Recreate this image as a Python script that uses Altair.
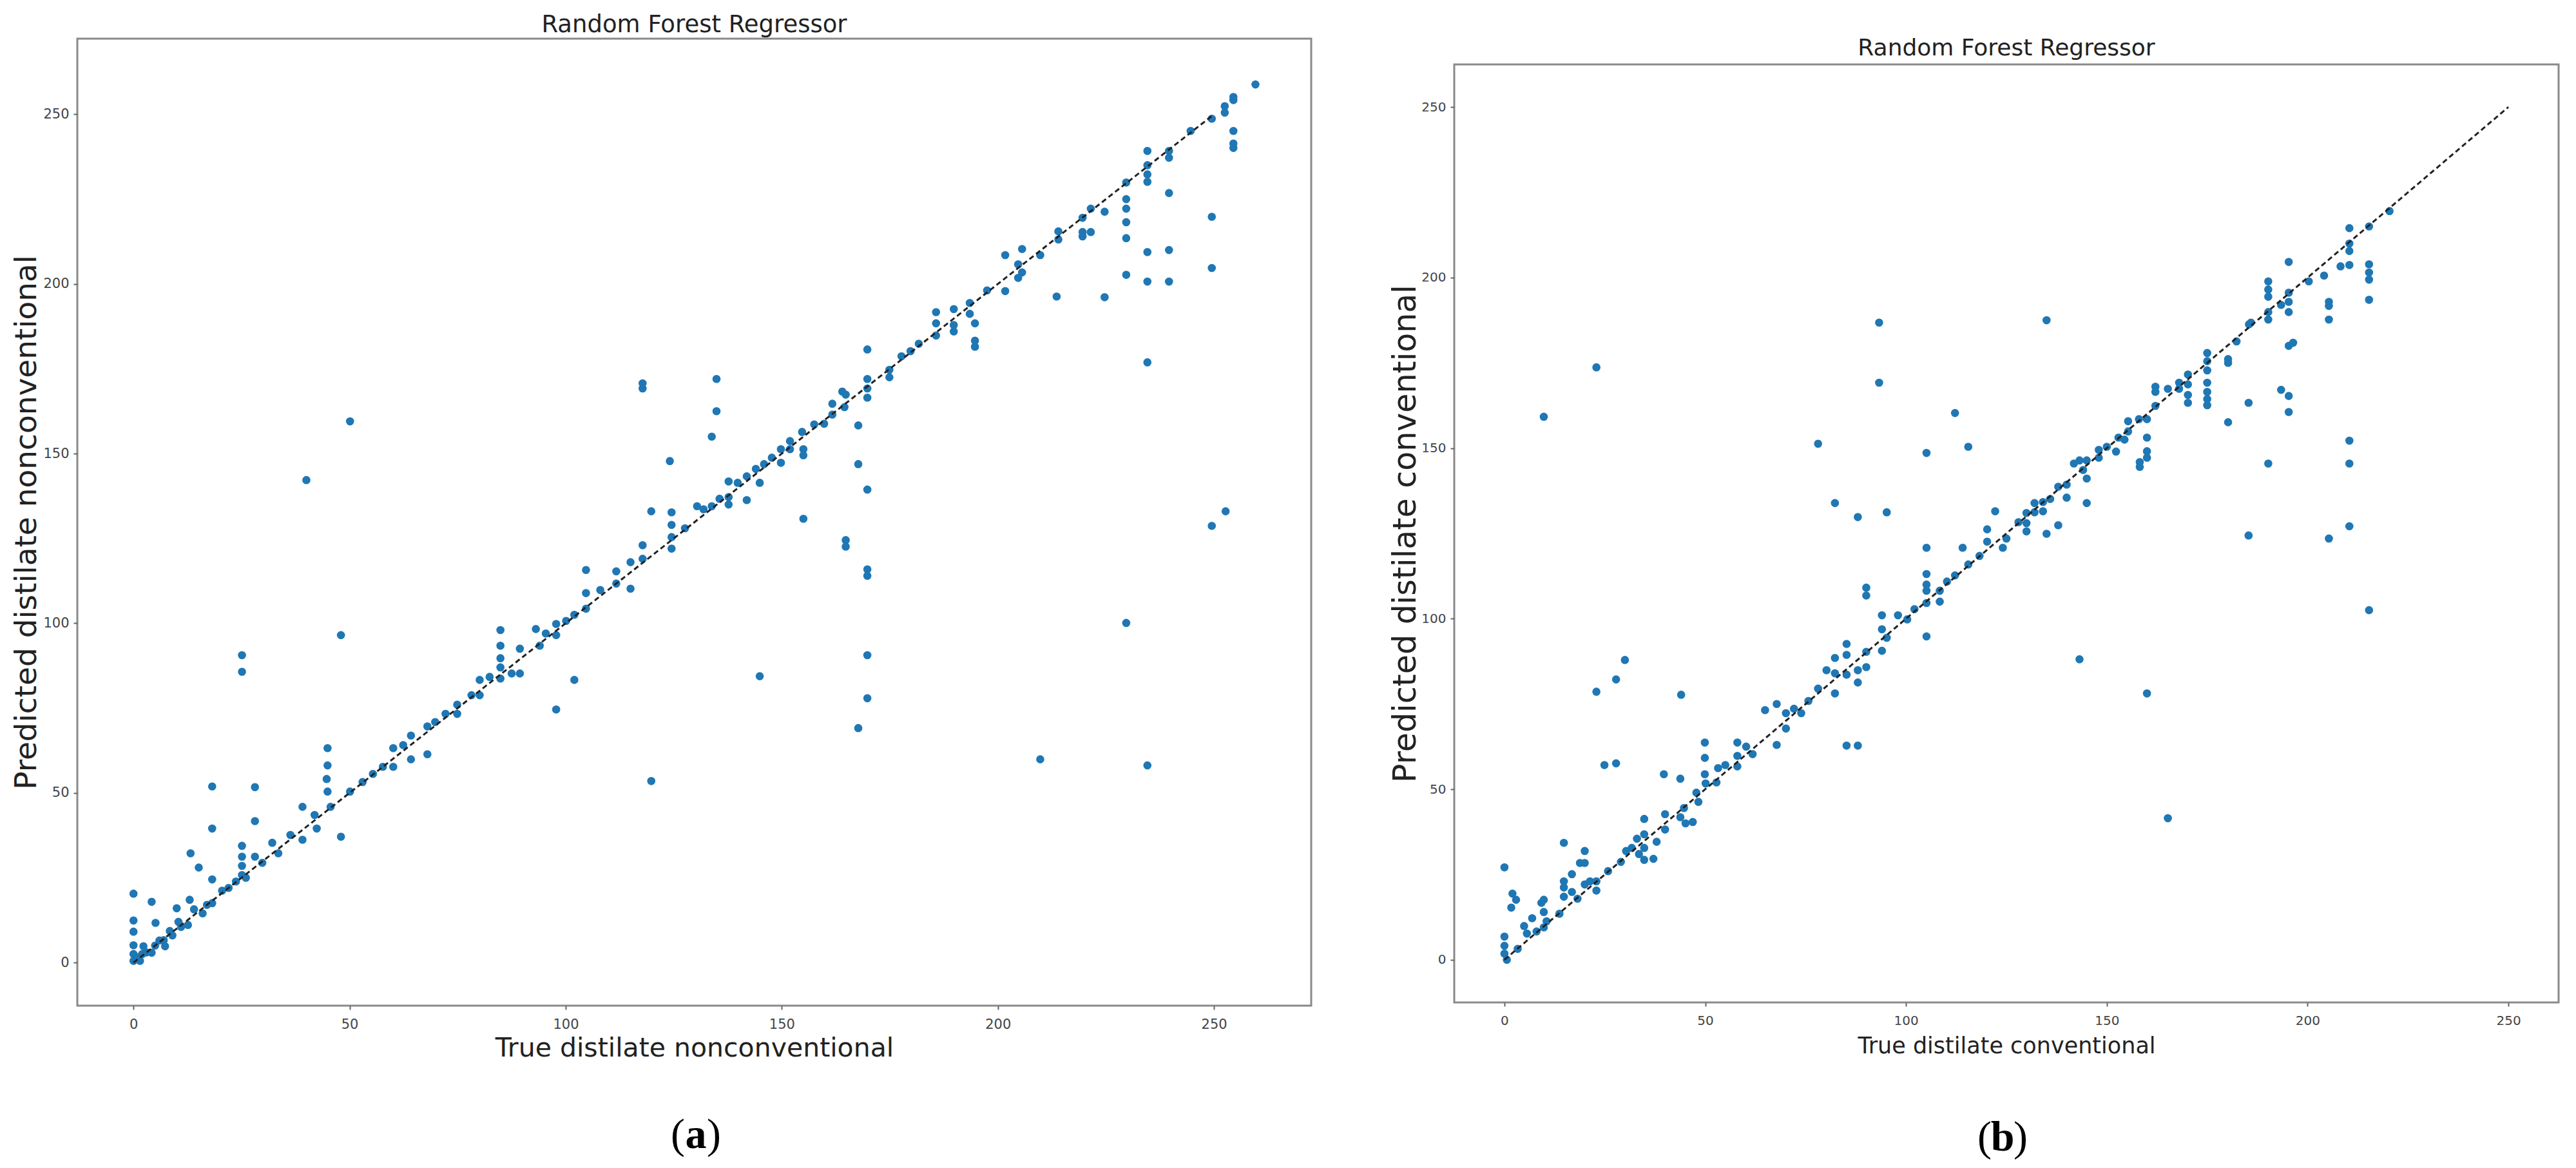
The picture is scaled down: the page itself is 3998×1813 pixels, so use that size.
import altair as alt
import pandas as pd

TICKS = [0, 50, 100, 150, 200, 250]
DIAG = [0, 250]
TITLE = "Random Forest Regressor"
BLUE = "#1f77b4"
FONT = "DejaVu Sans"

left_true = [0, 0, 0, 0, 0, 0, 1, 1.5, 2, 2.3, 3, 4.2, 4.2, 5.1, 5, 6, 7, 7.3, 8.4, 9, 10, 10.4, 11, 12.6, 13, 13.2,
             14, 15.1, 16, 17, 18.2, 18.2, 18.2, 18.2, 20.5, 22, 23.7, 25.1, 25.1, 25.1, 25.1, 25.1, 25.1, 26, 28.1,
             28.1, 28.1, 29.8, 32.1, 33.5, 36.3, 39.1, 39.1, 40, 41.9, 42.4, 44.9, 44.9, 44.7, 44.9, 45.6, 48, 48,
             50.1, 50.1, 53, 55.4, 57.7, 60.1, 60.1, 62.4, 64.2, 64.2, 68, 68, 69.8, 72.2, 74.9, 74.9, 78.2, 80.1,
             80.1, 82.4, 84.9, 84.9, 84.9, 84.9, 84.9, 87.5, 89.4, 89.4, 93.1, 94, 95.4, 97.8, 97.8, 97.8, 100.1,
             102, 102, 104.7, 104.7, 104.7, 108, 111.7, 111.7, 115, 115, 117.8, 117.8, 117.8, 117.8, 119.8, 119.8,
             124.1, 124.5, 124.5, 124.5, 124.5, 127.6, 130.4,
             131.9, 133.8, 135.6, 137.7, 137.7, 137.7, 134.9, 134.9, 133.8, 139.8, 141.9, 141.9, 144, 144.9, 144.9,
             145.9, 147.7, 149.8, 149.8, 151.9, 151.9, 154.7, 155, 155, 155, 157.5, 159.8, 161.7, 161.7, 164, 164.5,
             164.8, 164.8, 164.8, 167.7, 167.7, 167.7, 169.8, 169.8, 169.8, 169.8, 169.8, 169.8, 169.8, 169.8, 169.8,
             174.9, 174.9, 177.7, 179.8, 181.7, 185.7, 185.7, 185.7, 189.8, 189.8, 189.8, 193.5, 193.5, 194.7, 194.7,
             194.7, 197.5, 201.7, 201.7, 204.7, 204.7, 205.6, 205.6, 209.8, 209.8, 214, 214, 213.6, 219.6, 219.6,
             219.6, 221.5, 221.5, 224.7, 224.7, 229.7, 229.7, 229.7, 229.7, 229.7, 229.7, 229.7, 234.6, 234.6, 234.6,
             234.6, 234.6, 234.6, 234.6, 234.6, 239.6, 239.6, 239.6, 239.6, 239.6, 244.6, 249.5, 249.5, 249.5, 249.5,
             252.5, 252.5, 254.5, 254.5, 254.5, 254.5, 254.5, 252.7, 259.6]
left_pred = [20.3, 12.4, 9.1, 5.1, 2.5, 0.5, 1.5, 0.5, 2.5, 4.8, 3, 17.9, 2.9, 11.7, 5, 6.5, 6.6, 4.8, 9.3, 8, 16, 12,
             10.5, 11.1, 18.5, 32.2, 15.7, 28, 14.5, 17, 51.9, 39.5, 24.5, 17.5, 21.2, 22, 23.9, 34.4, 31.2, 28.5,
             25.8, 90.6, 85.7, 25, 51.7, 41.7, 31.2, 29.4, 35.3, 32.2, 37.6, 45.9, 36.2, 142.2, 43.5, 39.5, 63.2,
             58.1, 54.1, 50.4, 45.9, 37.1, 96.5, 159.5, 50.4, 53.2, 55.6, 57.7, 63.2, 57.7, 64.1, 66.9, 59.9, 69.6,
             61.4, 70.9, 73.3, 76, 73.3, 78.8, 83.3, 78.8, 84.2, 98, 93.4, 89.7, 87, 83.7, 85.2, 92.5, 85.2, 98.3,
             93.4, 97, 74.6, 99.8, 96.5, 100.7, 102.5, 83.3, 115.7, 108.9, 104.3, 109.8, 115.3, 111.7, 118, 110.2,
             170.7, 169.2, 123, 119, 53.5, 133, 147.8, 132.7, 129, 125.4, 122, 128, 134.5,
             133.6, 134.5, 136.7, 141.8, 137.2, 135, 172, 162.5, 155, 141.4, 143.3, 136.3, 145.5, 141.4, 84.4,
             146.9, 148.8, 151.3, 147.3, 153.7, 151.3, 156.4, 151.3, 149.5, 130.8, 158.6, 158.8, 161.5, 164.7, 168.3,
             163.7, 167.4, 124.5, 122.6, 158.3, 146.9, 69.1, 180.7, 172, 169.2, 166.5, 139.4, 115.9, 114, 90.6, 77.9,
             174.7, 172.5, 178.7, 180.2, 182.4, 191.7, 188.4, 184.8, 192.6, 187.9, 186, 194.4, 191.2, 188.4, 183.3,
             181.5, 198.1, 208.5, 197.9, 205.8, 201.8, 210.3, 203.4, 208.5, 59.9, 213.1, 215.5, 196.3, 219.5, 215.3,
             214, 222.2, 215.3, 221.3, 196.1, 229.9, 225, 222.2, 218.2, 213.5, 202.7, 100.1, 239.2, 235, 232.3,
             230.1, 209.4, 200.7, 176.9, 58.1, 239.2, 237.2, 226.8, 210, 200.7, 245.1, 248.7, 219.8, 204.7, 128.7,
             252.4, 250.5, 255.1, 254.2, 245.1, 241.4, 240.1, 133, 258.8]

right_true = [0, 0, 0, 0, 0.6, 2, 2.9, 1.7, 3.3, 4.9, 5.6, 6.9, 8, 9.8, 9.2, 9.8, 9.8, 10.5, 9.8, 13.7, 14.8, 14.8,
              14.8, 14.8, 16.8, 16.8, 18.2, 18.8, 20, 20, 20, 21.3, 22.9, 22.9, 22.9, 22.9, 24.9, 25.8, 27.8, 27.8,
              30, 29, 30.3, 31.7, 33, 33.5, 34.8, 34.8, 34.8, 34.8, 37.1, 37.9, 39.7, 40, 40, 44, 43.8, 43.8, 44.7,
              45.1, 46.9, 47.8, 48.3, 49.9, 49.9, 49.9, 50.1, 52.8, 53.2, 55, 58, 58, 58, 60.2, 61.8, 64.9, 67.8,
              67.8, 70.1, 70.1, 72.1, 73.9, 75.7, 78.1, 78.1, 80.2, 82.3, 82.3, 82.3, 82.3, 85.2, 85.2, 85.2, 85.2,
              88, 88, 88, 88, 90.1, 90.1, 90.1, 90.1, 93.3, 93.3, 94, 94, 94, 95.2, 95.2, 98, 100.3, 102.1, 105.1,
              105.1, 105.1, 105.1, 105.1, 105.1, 105.1, 108.4, 108.4, 110.2, 112.2, 112.2, 114.1, 115.5, 115.5,
              118.3, 120.2, 120.2, 122.2,
              124.1, 125, 128, 130, 130, 130, 132, 132, 134.1, 134.1, 135, 135, 135.9, 137.9, 137.9, 140, 140,
              141.8, 143.2, 143.2, 144.1, 145, 145, 145, 148, 148, 150, 152.3, 152.9, 154.4, 155.3, 155.3, 158,
              158.2, 158.2, 160, 160, 160, 160, 160, 162.1, 162.1, 162.1, 165.2, 165.2, 168, 168, 170.2, 170.2,
              170.2, 170.2, 175, 175, 175, 175, 175, 175, 175, 180.2, 180.2, 180.2, 182.3, 185.3, 185.3, 185.4,
              185.9, 190.2, 190.2, 190.2, 190.2, 190.2, 190.2, 193.4, 193.4, 195.3, 195.3, 195.3, 195.3, 195.3,
              196.4, 195.3, 195.3, 200.3, 204.1, 205.3, 205.3, 205.3, 205.3, 208.2, 210.4, 210.4, 210.4, 210.4,
              210.4, 210.4, 210.4, 215.3, 215.3, 215.3, 215.3, 215.3, 215.3, 220.4]
right_pred = [27.1, 6.8, 4.1, 1.8, 0, 19.4, 17.6, 15.3, 3.2, 9.9, 7.7, 12.2, 8.3, 159.2, 16.7, 17.6, 14, 11.3, 9.5,
              13.5, 34.3, 23, 21.2, 18.5, 19.9, 25.1, 17.9, 28.4, 31.9, 28.4, 22.1, 23, 173.7, 78.6, 23, 20.3, 57.1,
              26, 82.2, 57.6, 87.9, 28.7, 31.9, 32.8, 35.5, 31, 41.3, 36.8, 32.8, 29.3, 29.6, 34.6, 54.4, 42.7, 38.2,
              77.7, 53.1, 41.8, 44.5, 40, 40.4, 49, 46.3, 63.7, 59.2, 54.4, 51.7, 52, 56.2, 57.1, 63.7, 59.8, 56.7,
              62.5, 60.3, 73.2, 75, 63, 72.3, 67.8, 73.6, 72.3, 75.9, 151.3, 79.5, 84.9, 133.9, 88.5, 84, 78.1, 92.6,
              89.4, 83.6, 62.8, 129.8, 84.9, 81.3, 62.8, 109.1, 106.8, 90.3, 85.8, 186.8, 169.2, 101, 96.9, 90.6,
              131.2, 94.4, 101, 99.8, 102.8, 148.6, 120.8, 113.1, 110, 108.2, 104.6, 94.8, 108.2, 105, 110.9, 160.3,
              112.7, 120.8, 150.4, 115.9, 118.4, 122.6, 126.2, 131.5,
              120.8, 123.5, 128.3, 131, 128, 125.6, 133.9, 131.2, 134.2, 131.5, 187.5, 124.9, 135.1, 138.7, 127.4,
              139.3, 135.5, 145.5, 146.4, 88.1, 143.6, 146.4, 141.1, 133.9, 149.5, 147.2, 150.4, 149, 153.1, 152.5,
              157.9, 154.9, 158.5, 145.9, 144.5, 158.5, 153.1, 149.1, 147.2, 78.1, 168, 166.5, 162.4, 167.4, 41.5,
              169.2, 167.4, 171.6, 168.7, 165.6, 163.3, 177.9, 175.5, 172.8, 169.2, 166.5, 164.4, 162.6, 176.1, 175,
              157.6, 181.3, 163.3, 124.4, 186.3, 186.8, 198.9, 196.5, 194.4, 189.9, 187.7, 145.5, 192, 167.1, 204.6,
              195.6, 192.9, 189.9, 180, 180.9, 165.3, 160.6, 198.9, 200.6, 192.9, 191.7, 187.7, 123.5, 203.3, 214.5,
              210, 207.8, 203.7, 152.2, 145.5, 127.1, 215, 203.9, 201.5, 199.4, 193.5, 102.5, 219.5]


def caption(letter, cx, cy):
    parts = []
    for txt, dx, align, weight in [("(", -17, "right", "normal"), (letter, 0, "center", "bold"),
                                   (")", 17, "left", "normal")]:
        parts.append(
            alt.Chart(pd.DataFrame({"s": [txt]}))
            .mark_text(font="Liberation Serif", fontSize=66, align=align, baseline="middle",
                       color="black", fontWeight=weight)
            .encode(x=alt.value(cx + dx), y=alt.value(cy), text="s:N")
        )
    return parts


def panel(xs, ys, dom_x, dom_y, w, h, xlab, ylab, cfg):
    pts = pd.DataFrame({"t": xs, "p": ys})
    diag = pd.DataFrame({"t": DIAG, "p": DIAG})
    xsc = alt.Scale(domain=dom_x, nice=False, zero=False)
    ysc = alt.Scale(domain=dom_y, nice=False, zero=False)
    common = dict(values=TICKS, grid=False, domain=False, tickSize=6, tickWidth=2, tickColor="#666",
                  labelFontSize=cfg["lab"], labelFont=FONT, labelColor="#444", labelFlush=False,
                  labelOverlap=False, titleFont=FONT, titleFontWeight="normal", titleColor="#222",
                  titleBaseline="middle", titleAlign="center")
    xaxis = alt.Axis(title=xlab, labelPadding=12, titleFontSize=cfg["xt"], titleX=w / 2,
                     titleY=cfg["xty"], **common)
    yaxis = alt.Axis(title=ylab, labelPadding=7, titleFontSize=cfg["yt"], titleX=cfg["ytx"],
                     titleY=h / 2, titleAngle=270, **common)
    scatter = alt.Chart(pts).mark_circle(size=160, color=BLUE, opacity=1).encode(
        x=alt.X("t:Q", scale=xsc, axis=xaxis),
        y=alt.Y("p:Q", scale=ysc, axis=yaxis),
    )
    line = alt.Chart(diag).mark_line(color="#222", strokeWidth=3, strokeDash=[8, 5]).encode(
        x="t:Q", y="p:Q"
    )
    caps = caption(cfg["letter"], cfg["capx"], cfg["capy"])
    props = dict(width=w, height=h)
    if cfg.get("title"):
        props["title"] = alt.TitleParams(text=cfg["title"], fontSize=cfg["tfs"], font=FONT,
                                         fontWeight="normal", color="#222", offset=2,
                                         anchor="middle", frame="group")
    return alt.layer(scatter, line, *caps).properties(**props)


LW, LH = 1915, 1501
RW, RH = 1714, 1456
STRIP = 36  # the right frame sits this much lower than the left one

left = panel(left_true, left_pred, [-13, 272.5], [-12.7, 272.3], LW, LH,
             "True distilate nonconventional", "Predicted distilate nonconventional",
             dict(lab=21, xt=41, xty=66, yt=47, ytx=-79, letter="a", capx=960, capy=1702, tfs=37,
                  title=TITLE))
right = panel(right_true, right_pred, [-12.5, 262.5], [-12.5, 262.5], RW, RH,
              "True distilate conventional", "Predicted distilate conventional",
              dict(lab=20, xt=35, xty=67, yt=49, ytx=-76, letter="b", capx=851, capy=1666))

# title strip above the right panel: holds its title and pushes its frame down
right_title = (
    alt.Chart(pd.DataFrame({"s": [TITLE]}))
    .mark_text(font=FONT, fontSize=36, color="#222", align="center", baseline="alphabetic")
    .encode(x=alt.value(RW / 2), y=alt.value(STRIP - 10), text="s:N")
    .properties(width=RW, height=STRIP, view=alt.ViewBackground(stroke="transparent"))
)

chart = (
    alt.hconcat(alt.vconcat(left, spacing=0), alt.vconcat(right_title, right, spacing=0), spacing=118)
    .properties(padding={"left": 7, "top": 10, "right": 5, "bottom": 5})
    .configure_view(stroke="#8a8a8a", strokeWidth=3)
)

chart.save("out.html", embed_options={"renderer": "svg", "actions": False})
